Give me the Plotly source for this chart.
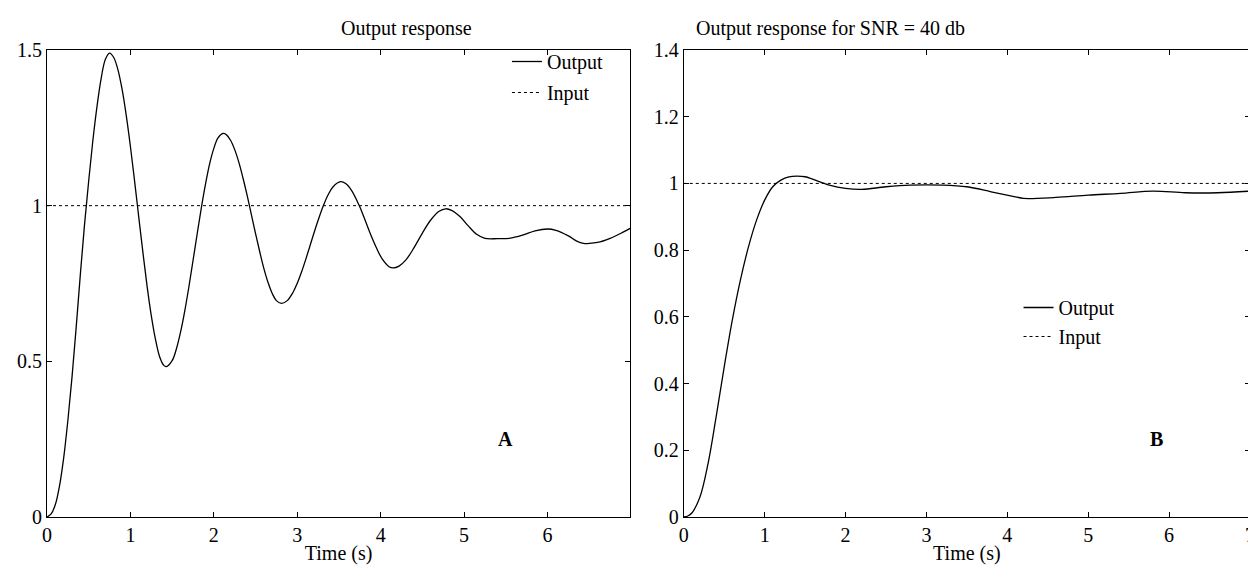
import plotly.graph_objects as go

# ---- data ----
t_a = [0.00, 0.05, 0.10, 0.15, 0.20, 0.25, 0.30, 0.35, 0.40, 0.45, 0.50, 0.55, 0.60, 0.65, 0.70, 0.75,
       0.80, 0.85, 0.90, 0.95, 1.00, 1.05, 1.10, 1.15, 1.20, 1.25, 1.30, 1.35, 1.40, 1.43, 1.50, 1.55,
       1.60, 1.65, 1.70, 1.75, 1.80, 1.85, 1.90, 1.95, 2.00, 2.05, 2.11, 2.15, 2.20, 2.25, 2.30, 2.35,
       2.40, 2.45, 2.50, 2.55, 2.60, 2.65, 2.70, 2.75, 2.81, 2.88, 2.95, 3.00, 3.05, 3.10, 3.15, 3.20,
       3.25, 3.31, 3.37, 3.43, 3.52, 3.58, 3.65, 3.74, 3.80, 3.87, 3.95, 4.02, 4.10, 4.15, 4.22, 4.30,
       4.40, 4.50, 4.60, 4.70, 4.78, 4.85, 4.95, 5.05, 5.15, 5.25, 5.40, 5.54, 5.70, 5.85, 6.00, 6.10,
       6.25, 6.35, 6.43, 6.60, 6.75, 6.90, 6.99]
y_a = [0.00, 0.01, 0.04, 0.10, 0.19, 0.31, 0.45, 0.61, 0.78, 0.94, 1.08, 1.21, 1.32, 1.41, 1.47, 1.49,
       1.476, 1.437, 1.374, 1.29, 1.19, 1.079, 0.963, 0.849, 0.741, 0.647, 0.571, 0.515, 0.487, 0.483, 0.502, 0.539,
       0.593, 0.66, 0.738, 0.823, 0.909, 0.993, 1.069, 1.135, 1.184, 1.218, 1.232, 1.228, 1.21, 1.18, 1.139, 1.088,
       1.032, 0.971, 0.91, 0.852, 0.798, 0.753, 0.718, 0.695, 0.686, 0.695, 0.722, 0.751, 0.786, 0.826, 0.869, 0.912,
       0.953, 0.998, 1.035, 1.061, 1.077, 1.071, 1.049, 1.002, 0.963, 0.914, 0.864, 0.828, 0.804, 0.80, 0.806, 0.825,
       0.865, 0.912, 0.954, 0.982, 0.99, 0.985, 0.965, 0.935, 0.908, 0.895, 0.894, 0.895, 0.905, 0.919, 0.925, 0.921,
       0.903, 0.886, 0.879, 0.882, 0.895, 0.914, 0.927]

t_b = [0.00, 0.05, 0.10, 0.20, 0.30, 0.40, 0.50, 0.60, 0.70, 0.80, 0.90, 1.00, 1.10, 1.20, 1.30, 1.40,
       1.50, 1.60, 1.80, 2.00, 2.20, 2.50, 2.80, 3.20, 3.50, 3.80, 4.10, 4.20, 4.60, 5.00, 5.40, 5.80,
       6.20, 6.60, 7.00]
y_b = [0.00, 0.003, 0.012, 0.06, 0.16, 0.30, 0.45, 0.59, 0.71, 0.81, 0.89, 0.95, 0.99, 1.01, 1.02, 1.022,
       1.02, 1.012, 0.995, 0.985, 0.982, 0.99, 0.995, 0.995, 0.99, 0.975, 0.96, 0.955, 0.958, 0.965, 0.97, 0.977,
       0.972, 0.972, 0.977]

in_t_a = [0, 6.99]
in_t_b = [0, 7]
in_y = [1, 1]

FONT = "Liberation Serif, Times New Roman, Times, serif"
fig = go.Figure()

fig.add_trace(go.Scatter(x=t_a, y=y_a, mode="lines", name="Output", line=dict(color="black", width=1.3, shape="spline"),
                         xaxis="x", yaxis="y", legend="legend", legendgroup="a1"))
fig.add_trace(go.Scatter(x=in_t_a, y=in_y, mode="lines", name="Input", line=dict(color="black", width=1, dash="dot"),
                         xaxis="x", yaxis="y", legend="legend", legendgroup="a2"))
fig.add_trace(go.Scatter(x=t_b, y=y_b, mode="lines", name="Output", line=dict(color="black", width=1.3, shape="spline"),
                         xaxis="x2", yaxis="y2", legend="legend2", legendgroup="b1"))
fig.add_trace(go.Scatter(x=in_t_b, y=in_y, mode="lines", name="Input", line=dict(color="black", width=1, dash="dot"),
                         xaxis="x2", yaxis="y2", legend="legend2", legendgroup="b2"))

axis_common = dict(showline=True, linecolor="black", linewidth=1, mirror="ticks", ticks="inside", ticklen=5,
                   tickcolor="black", showgrid=False, zeroline=False, tickfont=dict(family=FONT, size=20, color="black"))

L, R, T, B = 36, 9, 42, 58
W, H = 1256, 567
pw = W - L - R
ph = H - T - B
d1 = [0, (623 - L) / pw]
d2 = [(677 - L) / pw, 1]

fig.update_layout(
    width=W, height=H, margin=dict(l=L, r=R, t=T, b=B),
    paper_bgcolor="white", plot_bgcolor="white",
    font=dict(family=FONT, size=20, color="black"),
    xaxis=dict(domain=d1, range=[0, 6.99], dtick=1, anchor="y",
               title=dict(text="Time (s)", font=dict(family=FONT, size=20), standoff=0), **axis_common),
    yaxis=dict(domain=[0, 1], range=[0, 1.5], dtick=0.5, anchor="x", **axis_common),
    xaxis2=dict(domain=d2, range=[0, 7], dtick=1, anchor="y2",
                title=dict(text="Time (s)", font=dict(family=FONT, size=20), standoff=0), **axis_common),
    yaxis2=dict(domain=[0, 1], range=[0, 1.4], dtick=0.2, anchor="x2", **axis_common),
    legend=dict(x=(499 - L) / pw, y=1 + 8 / ph, xanchor="left", yanchor="top", bgcolor="rgba(0,0,0,0)",
                font=dict(family=FONT, size=20), tracegroupgap=2, traceorder="grouped"),
    legend2=dict(x=(1014 - L) / pw, y=1 - 238 / ph, xanchor="left", yanchor="top", bgcolor="rgba(0,0,0,0)",
                 font=dict(family=FONT, size=20), tracegroupgap=0, traceorder="grouped"),
    annotations=[
        dict(text="Output response", xref="paper", yref="paper", x=(d1[0] + d1[1]) / 2, y=1, yanchor="middle",
             yshift=22, showarrow=False, font=dict(family=FONT, size=20)),
        dict(text="Output response for SNR = 40 db", xref="paper", yref="paper", x=(d2[0] + d2[1]) / 2, y=1,
             yanchor="middle", yshift=22, showarrow=False, font=dict(family=FONT, size=20)),
        dict(text="<b>A</b>", xref="x", yref="y", x=5.5, y=0.25, showarrow=False, font=dict(family=FONT, size=20)),
        dict(text="<b>B</b>", xref="x2", yref="y2", x=5.85, y=0.235, showarrow=False, font=dict(family=FONT, size=20)),
    ],
)

fig.write_html("out.html")
